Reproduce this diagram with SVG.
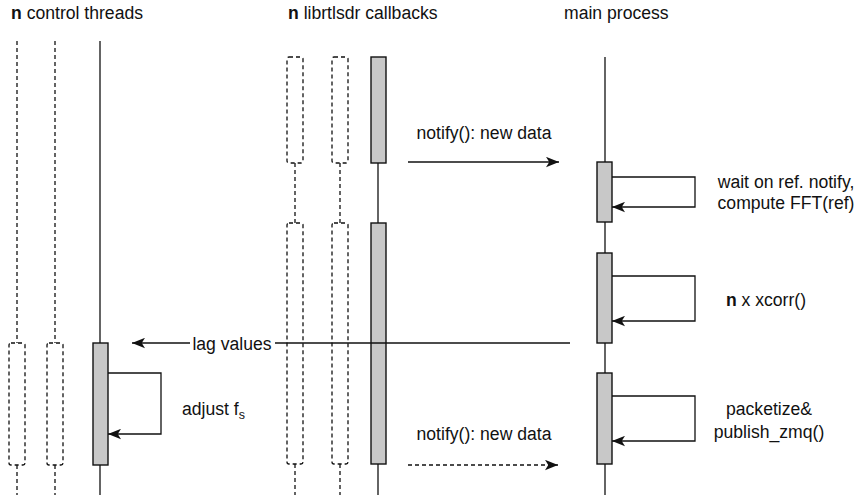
<svg xmlns="http://www.w3.org/2000/svg" width="861" height="495" viewBox="0 0 861 495">
  <style>
    text { font-family: "Liberation Sans", Arial, Helvetica, sans-serif; font-size: 17.6px; fill: #111; }
    .b { font-weight: bold; }
    .life { stroke: #111; stroke-width: 1.3; fill: none; }
    .dash { stroke: #111; stroke-width: 1.3; fill: none; stroke-dasharray: 4 3; }
    .act { fill: #c8c8c8; stroke: #111; stroke-width: 1.4; }
    .ghost { fill: none; stroke: #111; stroke-width: 1.3; stroke-dasharray: 4 3; }
    .msg { stroke: #111; stroke-width: 1.3; fill: none; marker-end: url(#arrow); }
    .msgd { stroke: #111; stroke-width: 1.3; fill: none; stroke-dasharray: 4 3; marker-end: url(#arrow); }
  </style>
  <defs>
    <marker id="arrow" viewBox="0 0 10 8" refX="10" refY="4" markerWidth="13" markerHeight="11" markerUnits="userSpaceOnUse" orient="auto">
      <path d="M0,0 L10,4 L0,8 L2.5,4 Z" fill="#111"/>
    </marker>
  </defs>
  <rect width="861" height="495" fill="#fff"/>

  <!-- headers -->
  <g id="hdr-control">
    <text x="11" y="19"><tspan class="b">n</tspan> control threads</text>
  </g>
  <g id="hdr-callbacks">
    <text x="288" y="19"><tspan class="b">n</tspan> librtlsdr callbacks</text>
  </g>
  <g id="hdr-main">
    <text x="564" y="19">main process</text>
  </g>

  <!-- control threads -->
  <g id="ctrl-ghost-1">
    <line class="dash" x1="17" y1="41" x2="17" y2="343"/>
    <rect class="ghost" x="9" y="343" width="16" height="122" rx="2"/>
    <line class="dash" x1="17" y1="465" x2="17" y2="495"/>
  </g>
  <g id="ctrl-ghost-2">
    <line class="dash" x1="55" y1="41" x2="55" y2="343"/>
    <rect class="ghost" x="47" y="343" width="16" height="122" rx="2"/>
    <line class="dash" x1="55" y1="465" x2="55" y2="495"/>
  </g>
  <g id="ctrl-thread">
    <line class="life" x1="100" y1="41" x2="100" y2="343"/>
    <line class="life" x1="100" y1="465" x2="100" y2="495"/>
    <rect class="act" x="93" y="343" width="15" height="122"/>
  </g>

  <!-- librtlsdr callbacks -->
  <g id="cb-ghost-1">
    <rect class="ghost" x="287" y="57" width="16" height="106" rx="2"/>
    <line class="dash" x1="295" y1="163" x2="295" y2="223"/>
    <rect class="ghost" x="287" y="223" width="16" height="241" rx="2"/>
    <line class="dash" x1="295" y1="464" x2="295" y2="495"/>
  </g>
  <g id="cb-ghost-2">
    <rect class="ghost" x="332" y="57" width="16" height="106" rx="2"/>
    <line class="dash" x1="340" y1="163" x2="340" y2="223"/>
    <rect class="ghost" x="332" y="223" width="16" height="241" rx="2"/>
    <line class="dash" x1="340" y1="464" x2="340" y2="495"/>
  </g>
  <g id="cb-ref">
    <line class="life" x1="378" y1="163" x2="378" y2="223"/>
    <line class="life" x1="378" y1="464" x2="378" y2="495"/>
    <rect class="act" x="371" y="57" width="15" height="106"/>
    <rect class="act" x="371" y="223" width="15" height="241"/>
  </g>

  <!-- main process -->
  <g id="main">
    <line class="life" x1="605" y1="57" x2="605" y2="495"/>
    <rect class="act" x="597" y="162" width="15" height="60"/>
    <rect class="act" x="597" y="253" width="15" height="90"/>
    <rect class="act" x="597" y="373" width="15" height="91"/>
  </g>

  <!-- messages -->
  <g id="connectors">
    <line class="msg" x1="408" y1="162" x2="559" y2="162"/>
    <text x="484" y="139" text-anchor="middle">notify(): new data</text>

    <path class="msg" d="M612,177 H695 V207 H612"/>
    <text x="786" y="188" text-anchor="middle">wait on ref. notify,</text>
    <text x="786" y="209" text-anchor="middle">compute FFT(ref)</text>

    <path class="msg" d="M612,276 H695 V321 H612"/>
    <text x="766" y="306" text-anchor="middle"><tspan class="b">n</tspan> x xcorr()</text>

    <line class="msg" x1="570" y1="343" x2="132" y2="343"/>
    <rect x="190" y="335" width="85" height="17" fill="#fff"/>
    <text x="232" y="350" text-anchor="middle">lag values</text>

    <path class="msg" d="M108,373 H161 V434 H108"/>
    <text x="182" y="415">adjust f<tspan font-size="12.5" dy="4">s</tspan></text>

    <path class="msg" d="M612,396 H695 V441 H612"/>
    <text x="769" y="415" text-anchor="middle">packetize&amp;</text>
    <text x="769" y="438" text-anchor="middle">publish_zmq()</text>

    <line class="msgd" x1="408" y1="465" x2="558" y2="465"/>
    <text x="484" y="440" text-anchor="middle">notify(): new data</text>
  </g>
</svg>
